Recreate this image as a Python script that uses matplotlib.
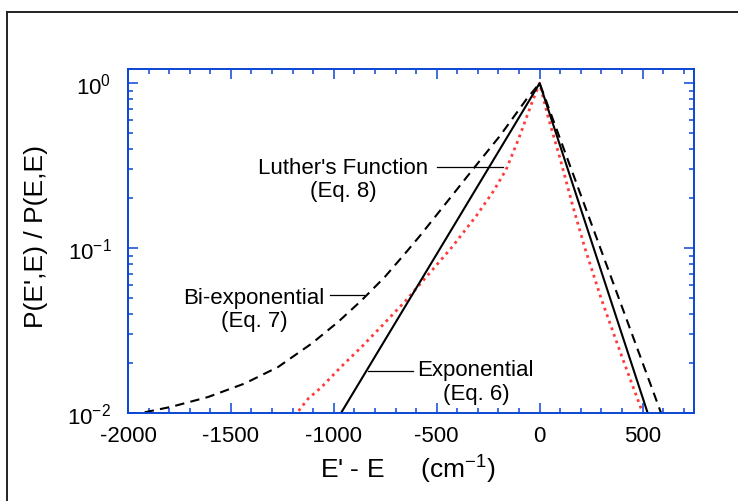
import matplotlib
matplotlib.use('Agg')
import matplotlib.pyplot as plt
from matplotlib.lines import Line2D
from matplotlib.ticker import MultipleLocator, LogLocator, NullFormatter
import numpy as np

plt.rcParams['font.family'] = ['Liberation Sans', 'DejaVu Sans']
plt.rcParams['axes.unicode_minus'] = False
plt.rcParams['mathtext.fontset'] = 'custom'
plt.rcParams['mathtext.rm'] = 'Liberation Sans'
plt.rcParams['mathtext.it'] = 'Liberation Sans'

# values (E' - E in cm-1, ratio on log axis)
exp_x = [-965, 0, 525]
exp_y = [0.01, 1.0, 0.01]

biexp_x = [-1919, -1790, -1611, -1433, -1271, -1109, -980, -866, -753, -648,
           -581, -451, -322, -192, -63, 0, 590]
biexp_y = [0.0101, 0.0109, 0.0125, 0.0151, 0.0190, 0.0263, 0.0356, 0.0481, 0.0667, 0.0946,
           0.119, 0.190, 0.303, 0.481, 0.803, 1.0, 0.01]

luther_x = [-1171, -1125, -1061, -964, -866, -769, -648, -427, -306, -225, -163, -103, -38,
            0, 40, 100, 160, 220, 300, 400, 501]
luther_y = [0.0103, 0.0122, 0.0143, 0.0191, 0.0251, 0.0335, 0.0484, 0.101, 0.158, 0.221,
            0.299, 0.457, 0.759, 1.0, 0.631, 0.347, 0.182, 0.100, 0.049, 0.0219, 0.01]

blue = '#0a46d6'

fig = plt.figure(figsize=(7.38, 5.02), dpi=100)
ax = fig.add_axes([128/738, 1 - 414/502, 566/738, 344/502])

ax.plot(biexp_x, biexp_y, color='black', lw=1.5, ls=(0, (4.5, 3)))
ax.plot(luther_x, luther_y, color='#ff3b3b', lw=2.0, ls=(0, (1, 1.5)))
ax.plot(exp_x, exp_y, color='black', lw=1.5)

ax.set_yscale('log')
ax.set_xlim(-2000, 750)
ax.set_ylim(0.01, 1.22)

ax.xaxis.set_major_locator(MultipleLocator(500))
ax.xaxis.set_minor_locator(MultipleLocator(100))
ax.yaxis.set_major_locator(LogLocator(base=10))
ax.yaxis.set_minor_locator(LogLocator(base=10, subs=np.arange(2, 10)))
ax.yaxis.set_minor_formatter(NullFormatter())

for sp in ax.spines.values():
    sp.set_color(blue)
    sp.set_linewidth(1.4)
ax.tick_params(which='both', direction='in', top=True, right=True, color=blue,
               width=1.1, labelsize=16, labelcolor='black')
ax.tick_params(axis='x', which='both', pad=9)
ax.tick_params(axis='y', which='both', pad=12)
ax.tick_params(which='major', length=7)
ax.tick_params(which='minor', length=3.5)

# curve labels with leader lines
ax.text(-956, 0.285, "Luther's Function", fontsize=16, ha='center', va='baseline')
ax.text(-956, 0.208, "(Eq. 8)", fontsize=16, ha='center', va='baseline')
ax.plot([-497, -179], [0.31, 0.31], color='black', lw=0.9)

ax.text(-1390, 0.0466, "Bi-exponential", fontsize=16, ha='center', va='baseline')
ax.text(-1388, 0.0335, "(Eq. 7)", fontsize=16, ha='center', va='baseline')
ax.plot([-1017, -855], [0.0519, 0.0519], color='black', lw=0.9)

ax.text(-310, 0.0169, "Exponential", fontsize=16, ha='center', va='baseline')
ax.text(-309, 0.0122, "(Eq. 6)", fontsize=16, ha='center', va='baseline')
ax.plot([-832, -613], [0.018, 0.018], color='black', lw=0.9)

fig.text(36/738, 1 - 236/502, "P(E',E) / P(E,E)", rotation=90, fontsize=19,
         ha='center', va='center')
fig.text(408/738, 1 - 479/502, "E' - E     (cm$^{-1}$)", fontsize=19,
         ha='center', va='baseline')

# page frame around the figure
fig.add_artist(Line2D([7/738, 1], [1 - 13/502, 1 - 13/502], transform=fig.transFigure,
                      color='#222222', lw=1.4))
fig.add_artist(Line2D([7/738, 7/738], [0, 1 - 13/502], transform=fig.transFigure,
                      color='#222222', lw=1.4))

fig.savefig('out.png', dpi=100)
